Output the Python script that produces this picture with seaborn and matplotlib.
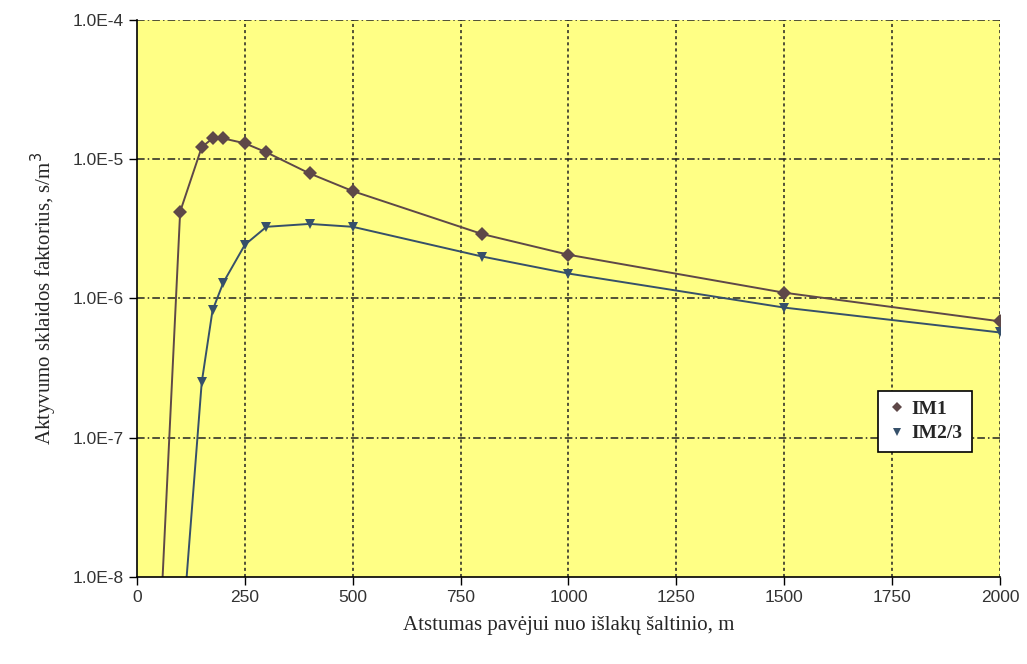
import pandas as pd
import matplotlib.pyplot as plt
import seaborn as sns

# IM1 ir IM2/3 kreivės (nuskaityta iš grafiko)
x_im1 = [50, 100, 150, 175, 200, 250, 300, 400, 500, 800, 1000, 1500, 2000]
y_im1 = [2.5e-9, 4.2e-6, 1.22e-5, 1.41e-5, 1.41e-5, 1.3e-5, 1.12e-5, 7.9e-6, 5.9e-6,
         2.9e-6, 2.06e-6, 1.1e-6, 6.85e-7]
x_im23 = [100, 150, 175, 200, 250, 300, 400, 500, 800, 1000, 1500, 2000]
y_im23 = [2.5e-9, 2.5e-7, 8.2e-7, 1.3e-6, 2.43e-6, 3.27e-6, 3.43e-6, 3.27e-6,
          2.0e-6, 1.51e-6, 8.6e-7, 5.7e-7]
series = ['IM1', 'IM2/3']
x_ticks = [0, 250, 500, 750, 1000, 1250, 1500, 1750, 2000]
y_ticks = [1e-8, 1e-7, 1e-6, 1e-5, 1e-4]
y_labels = ['1.0E-8', '1.0E-7', '1.0E-6', '1.0E-5', '1.0E-4']

df = pd.concat([
    pd.DataFrame({'x': x_im1, 'y': y_im1, 'serija': series[0]}),
    pd.DataFrame({'x': x_im23, 'y': y_im23, 'serija': series[1]}),
])

sns.set_style('white')
plt.rcParams['font.family'] = ['Liberation Sans', 'DejaVu Sans']

fig = plt.figure(figsize=(10.27, 6.64), dpi=100)
ax = fig.add_axes([0.1334, 0.131, 0.8403, 0.839])
ax.set_facecolor('#FFFF85')

sns.lineplot(data=df, x='x', y='y', hue='serija', style='serija',
             palette={'IM1': '#5e4848', 'IM2/3': '#36506a'},
             markers={'IM1': 'D', 'IM2/3': 'v'}, dashes=False,
             markersize=7, markeredgewidth=0, linewidth=1.4, ax=ax)

ax.set_yscale('log')
ax.set_xlim(0, 2000)
ax.set_ylim(1e-8, 1e-4)
ax.set_xticks(x_ticks)
ax.set_xticklabels([str(t) for t in x_ticks])
ax.set_yticks(y_ticks)
ax.set_yticklabels(y_labels)
ax.minorticks_off()
ax.tick_params(axis='both', direction='out', length=6, width=1, labelsize=12.5,
               labelcolor='#333333', color='black', left=True, bottom=True)

# tinklelis
for yt in y_ticks[1:]:
    ax.axhline(yt, color='#222222', lw=1.1, ls=(0, (5, 2, 1, 2)), zorder=0.5)
for xt in x_ticks[1:]:
    ax.axvline(xt, color='#222222', lw=1.1, ls=(0, (2, 2)), zorder=0.5)

for s in ['top', 'right']:
    ax.spines[s].set_visible(False)
for s in ['left', 'bottom']:
    ax.spines[s].set_color('black')
    ax.spines[s].set_linewidth(1.2)

ax.set_xlabel('Atstumas pavėjui nuo išlakų šaltinio, m', fontsize=15,
              family='Liberation Serif', labelpad=8)
ax.set_ylabel('Aktyvumo sklaidos faktorius, s/m$^3$', fontsize=15,
              family='Liberation Serif', labelpad=10)

leg = ax.legend(loc='upper right', bbox_to_anchor=(0.979, 0.352), frameon=True,
                fancybox=False, framealpha=1, edgecolor='black', handlelength=0.9,
                handletextpad=0.3, borderpad=0.5, labelspacing=0.35, markerscale=0.8,
                prop={'family': 'Liberation Serif', 'weight': 'bold', 'size': 14})
for line in leg.get_lines():
    line.set_linestyle('none')
leg.get_frame().set_linewidth(1.2)

plt.savefig('out.png', dpi=100)
